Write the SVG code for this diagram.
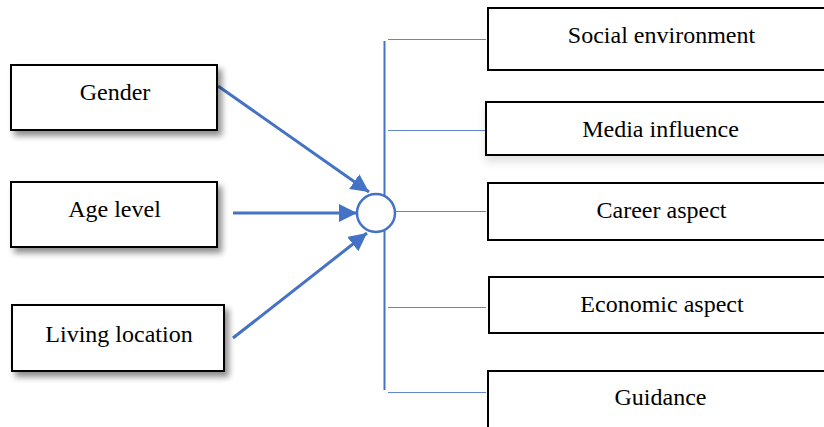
<svg xmlns="http://www.w3.org/2000/svg" width="824" height="427" viewBox="0 0 824 427">
<defs>
<filter id="sh" x="-10%" y="-20%" width="130%" height="160%">
<feGaussianBlur in="SourceAlpha" stdDeviation="3"/>
<feOffset dx="4" dy="5" result="b"/>
<feComponentTransfer><feFuncA type="linear" slope="0.45"/></feComponentTransfer>
<feMerge><feMergeNode/><feMergeNode in="SourceGraphic"/></feMerge>
</filter>
<filter id="sh2" x="-10%" y="-20%" width="130%" height="180%">
<feGaussianBlur in="SourceAlpha" stdDeviation="4"/>
<feOffset dx="0" dy="6" result="b"/>
<feComponentTransfer><feFuncA type="linear" slope="0.12"/></feComponentTransfer>
<feMerge><feMergeNode/><feMergeNode in="SourceGraphic"/></feMerge>
</filter>
<marker id="arr" markerWidth="6" markerHeight="6" refX="6" refY="3" orient="auto" markerUnits="strokeWidth">
<path d="M0,0 L6,3 L0,6 Z" fill="#4472C4"/>
</marker>
<style>
.box{fill:#fff;stroke:#000;stroke-width:2}
.t{font-family:"Times New Roman","Liberation Serif","DejaVu Serif",serif;font-size:24px;fill:#000;text-anchor:middle}
.arrow{stroke:#4472C4;stroke-width:3;fill:none;marker-end:url(#arr)}
.thin{stroke:#4472C4;stroke-width:1;fill:none;opacity:0.85}
.spine{stroke:#4472C4;stroke-width:2;fill:none}
</style>
</defs>
<g id="connectors">
<line class="spine" x1="384.5" y1="41" x2="384.5" y2="390"/>
<line class="thin" x1="388" y1="39.5" x2="486" y2="39.5"/>
<line class="thin" x1="388" y1="130.5" x2="486" y2="130.5"/>
<line class="thin" x1="396" y1="211.5" x2="486" y2="211.5"/>
<line class="thin" x1="388" y1="307.5" x2="486" y2="307.5"/>
<line class="thin" x1="388" y1="392.5" x2="486" y2="392.5"/>
<line class="arrow" x1="218" y1="86" x2="369" y2="192"/>
<line class="arrow" x1="233" y1="213" x2="357" y2="213"/>
<line class="arrow" x1="233" y1="338" x2="367" y2="233"/>
</g>
<g id="hub">
<circle cx="376" cy="213" r="19" fill="#fff" stroke="#4472C4" stroke-width="2.5"/>
</g>
<g id="gender">
<rect class="box" x="11" y="65" width="206" height="65" filter="url(#sh)"/>
<text class="t" x="115" y="100">Gender</text>
</g>
<g id="age-level">
<rect class="box" x="11" y="182" width="206" height="65" filter="url(#sh)"/>
<text class="t" x="114.5" y="217">Age level</text>
</g>
<g id="living-location">
<rect class="box" x="12" y="305" width="212" height="66" filter="url(#sh)"/>
<text class="t" x="119" y="342">Living location</text>
</g>
<g id="social-environment">
<rect class="box" x="488" y="8" width="345" height="62"/>
<text class="t" x="661.5" y="43">Social environment</text>
</g>
<g id="media-influence">
<rect class="box" x="486" y="102" width="347" height="53" filter="url(#sh2)"/>
<text class="t" x="660.5" y="137">Media influence</text>
</g>
<g id="career-aspect">
<rect class="box" x="488" y="183" width="345" height="57"/>
<text class="t" x="661.5" y="218">Career aspect</text>
</g>
<g id="economic-aspect">
<rect class="box" x="489" y="277" width="344" height="56"/>
<text class="t" x="662" y="312">Economic aspect</text>
</g>
<g id="guidance">
<rect class="box" x="488" y="371" width="345" height="70"/>
<text class="t" x="660.5" y="405">Guidance</text>
</g>
</svg>
